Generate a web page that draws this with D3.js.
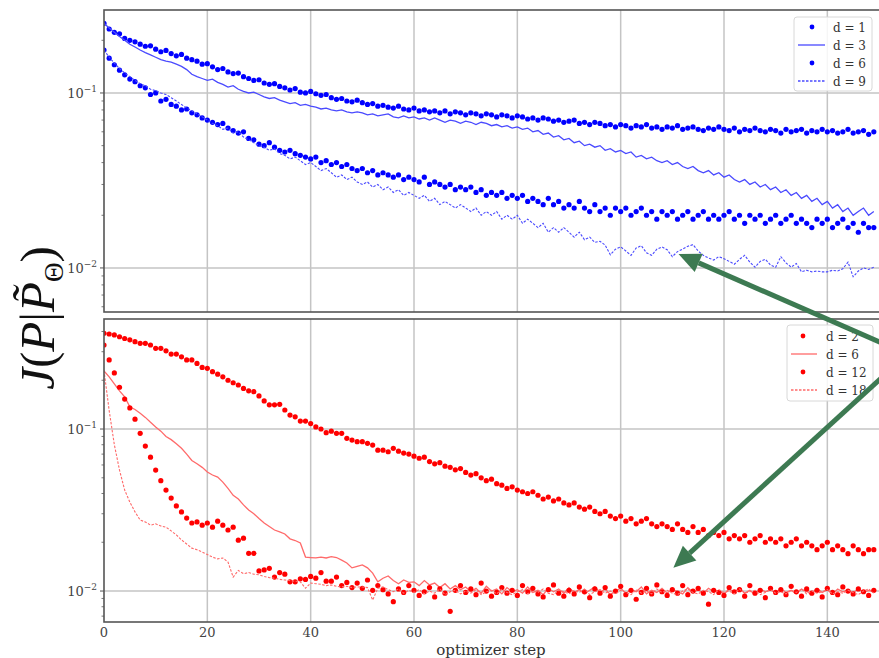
<!DOCTYPE html>
<html>
<head>
<meta charset="utf-8">
<style>
    body { margin: 0; background: #fff; }
    svg { display: block; }
    .tick-label { font-family: 'DejaVu Serif', serif; font-size: 13px; fill: #444; }
    .legend-text { font-family: 'DejaVu Serif', serif; font-size: 12px; fill: #333; }
</style>
</head>
<body>
<svg width="879" height="658"></svg>
<script src="https://d3js.org/d3.v7.min.js"></script>
<script>
// ---- data ----
const xTicks = [0, 20, 40, 60, 80, 100, 120, 140];
const yMajor = [-1, -2];   // exponents of labelled ticks

const topLabels = ["d = 1", "d = 3", "d = 6", "d = 9"];
const botLabels = ["d = 2", "d = 6", "d = 12", "d = 18"];

const topD1 = [0.25,0.232,0.222,0.218,0.205,0.2,0.196,0.19,0.185,0.186,
 0.178,0.172,0.175,0.168,0.163,0.166,0.158,0.155,0.152,0.146,
 0.147,0.141,0.136,0.138,0.132,0.129,0.13,0.124,0.121,0.118,
 0.119,0.114,0.112,0.113,0.109,0.107,0.104,0.106,0.101,0.1,
 0.102,0.099,0.097,0.098,0.094,0.092,0.093,0.09,0.089,0.091,
 0.088,0.086,0.087,0.084,0.085,0.083,0.082,0.084,0.081,0.08,
 0.082,0.079,0.08,0.078,0.079,0.077,0.079,0.076,0.078,0.077,
 0.075,0.077,0.076,0.074,0.076,0.075,0.073,0.075,0.074,0.072,
 0.074,0.073,0.071,0.072,0.07,0.072,0.071,0.069,0.07,0.068,
 0.069,0.07,0.067,0.068,0.066,0.068,0.067,0.065,0.066,0.064,
 0.066,0.065,0.063,0.065,0.064,0.066,0.063,0.064,0.062,0.064,
 0.063,0.065,0.062,0.063,0.064,0.062,0.061,0.063,0.062,0.064,
 0.062,0.061,0.063,0.06,0.062,0.061,0.063,0.061,0.06,0.062,
 0.061,0.059,0.062,0.06,0.061,0.062,0.059,0.061,0.06,0.062,
 0.06,0.061,0.059,0.06,0.062,0.059,0.06,0.061,0.058,0.06];

const topD3 = [0.25,0.235,0.222,0.21,0.2,0.19,0.183,0.176,0.17,0.165,
 0.16,0.155,0.152,0.15,0.146,0.142,0.136,0.128,0.124,0.121,
 0.118,0.12,0.115,0.112,0.108,0.11,0.105,0.102,0.1,0.101,
 0.098,0.095,0.093,0.094,0.091,0.089,0.087,0.088,0.085,0.086,
 0.084,0.083,0.081,0.082,0.08,0.079,0.08,0.078,0.077,0.078,
 0.077,0.075,0.076,0.074,0.075,0.076,0.073,0.072,0.074,0.072,
 0.073,0.071,0.072,0.07,0.072,0.07,0.068,0.07,0.069,0.067,
 0.069,0.068,0.066,0.068,0.067,0.065,0.066,0.064,0.065,0.063,
 0.064,0.062,0.063,0.06,0.061,0.058,0.059,0.056,0.057,0.054,
 0.055,0.052,0.053,0.05,0.051,0.049,0.05,0.047,0.048,0.046,
 0.047,0.045,0.046,0.043,0.044,0.042,0.043,0.041,0.04,0.041,
 0.039,0.04,0.038,0.037,0.038,0.036,0.035,0.036,0.034,0.035,
 0.033,0.034,0.032,0.031,0.032,0.03,0.031,0.029,0.03,0.028,
 0.029,0.027,0.028,0.026,0.027,0.025,0.026,0.024,0.025,0.023,
 0.024,0.022,0.023,0.021,0.022,0.02,0.021,0.022,0.02,0.021];

const topD6 = [0.176,0.158,0.145,0.135,0.127,0.12,0.116,0.11,0.107,0.098,
 0.1,0.09,0.092,0.086,0.084,0.08,0.081,0.077,0.075,0.072,
 0.07,0.068,0.066,0.067,0.063,0.061,0.059,0.06,0.055,0.054,
 0.051,0.05,0.052,0.049,0.047,0.046,0.047,0.045,0.044,0.043,
 0.042,0.043,0.04,0.041,0.039,0.04,0.038,0.039,0.037,0.036,
 0.037,0.035,0.036,0.034,0.035,0.034,0.033,0.034,0.032,0.033,
 0.032,0.031,0.033,0.03,0.031,0.03,0.029,0.03,0.028,0.029,
 0.028,0.029,0.027,0.028,0.026,0.027,0.026,0.027,0.025,0.026,
 0.025,0.026,0.024,0.025,0.024,0.023,0.025,0.023,0.024,0.022,
 0.023,0.022,0.024,0.022,0.021,0.023,0.021,0.022,0.02,0.022,
 0.021,0.022,0.02,0.021,0.022,0.02,0.021,0.019,0.021,0.02,
 0.021,0.019,0.02,0.021,0.019,0.02,0.021,0.019,0.02,0.019,
 0.02,0.021,0.019,0.02,0.018,0.02,0.019,0.02,0.018,0.019,
 0.02,0.018,0.019,0.02,0.018,0.019,0.018,0.017,0.019,0.018,
 0.019,0.017,0.018,0.019,0.017,0.018,0.016,0.018,0.017,0.017];

const topD9 = [0.176,0.16,0.148,0.138,0.13,0.124,0.118,0.113,0.11,0.105,
 0.103,0.1,0.098,0.094,0.09,0.086,0.082,0.079,0.076,0.073,
 0.07,0.067,0.065,0.062,0.063,0.059,0.06,0.056,0.054,0.052,
 0.05,0.049,0.047,0.048,0.045,0.044,0.042,0.043,0.041,0.039,
 0.04,0.038,0.036,0.037,0.035,0.033,0.034,0.032,0.033,0.031,
 0.03,0.031,0.029,0.03,0.028,0.029,0.027,0.028,0.026,0.027,
 0.026,0.025,0.026,0.024,0.025,0.023,0.024,0.023,0.022,0.023,
 0.022,0.021,0.022,0.02,0.021,0.02,0.021,0.019,0.02,0.019,
 0.02,0.018,0.019,0.018,0.017,0.018,0.016,0.017,0.016,0.017,
 0.016,0.015,0.016,0.0145,0.015,0.014,0.0142,0.0135,0.0119,0.0128,
 0.0132,0.0125,0.0118,0.013,0.0134,0.0122,0.0118,0.0128,0.0132,0.0127,
 0.0116,0.0124,0.0128,0.0133,0.0136,0.0125,0.0118,0.0114,0.0111,0.0116,
 0.0113,0.0109,0.0105,0.0112,0.0118,0.0108,0.0101,0.0109,0.0112,0.0104,
 0.0101,0.0116,0.0107,0.0101,0.0106,0.0095,0.0097,0.0095,0.0096,0.0095,
 0.0095,0.0097,0.0096,0.0099,0.0108,0.0089,0.0096,0.01,0.0098,0.0101];

const botD2 = [0.39,0.386,0.381,0.371,0.362,0.355,0.346,0.338,0.338,0.33,
 0.315,0.315,0.304,0.29,0.29,0.279,0.267,0.267,0.254,0.24,
 0.237,0.226,0.218,0.21,0.2,0.193,0.187,0.178,0.172,0.17,
 0.16,0.149,0.141,0.141,0.142,0.131,0.122,0.119,0.112,0.112,
 0.108,0.103,0.1,0.095,0.097,0.094,0.094,0.0876,0.0855,0.0835,
 0.0835,0.0816,0.0796,0.074,0.074,0.0724,0.076,0.073,0.071,0.07,
 0.068,0.066,0.067,0.063,0.061,0.062,0.059,0.058,0.056,0.057,
 0.054,0.052,0.053,0.05,0.048,0.049,0.046,0.045,0.043,0.044,
 0.042,0.041,0.04,0.041,0.039,0.037,0.038,0.036,0.037,0.035,
 0.034,0.035,0.033,0.032,0.033,0.031,0.03,0.031,0.029,0.028,
 0.029,0.027,0.028,0.026,0.027,0.028,0.026,0.025,0.026,0.025,
 0.024,0.026,0.024,0.023,0.025,0.023,0.024,0.022,0.023,0.022,
 0.023,0.021,0.022,0.021,0.022,0.02,0.021,0.022,0.02,0.021,
 0.02,0.021,0.019,0.02,0.021,0.019,0.02,0.019,0.018,0.019,
 0.02,0.018,0.019,0.018,0.017,0.019,0.018,0.017,0.018,0.018];

const botD6 = [0.228,0.21,0.19,0.172,0.158,0.137,0.132,0.125,0.118,0.11,
 0.103,0.097,0.09,0.086,0.081,0.076,0.07,0.064,0.061,0.058,
 0.0543,0.052,0.0505,0.047,0.043,0.039,0.037,0.034,0.0316,0.03,
 0.028,0.0263,0.025,0.0238,0.0232,0.0225,0.021,0.0205,0.0198,0.0162,
 0.0161,0.016,0.0162,0.016,0.0163,0.0161,0.0155,0.0149,0.0139,0.0142,
 0.0145,0.0139,0.0129,0.0114,0.012,0.0124,0.0116,0.0111,0.0117,0.0113,
 0.0114,0.0108,0.0116,0.0109,0.0112,0.0105,0.0111,0.0103,0.0108,0.0102,
 0.0106,0.0099,0.0104,0.0097,0.0107,0.01,0.0103,0.0096,0.0105,0.0099,
 0.0102,0.0097,0.0106,0.0098,0.0101,0.0095,0.0104,0.0099,0.0103,0.0097,
 0.0105,0.0098,0.0102,0.0096,0.0101,0.0106,0.0098,0.0103,0.0095,0.01,
 0.0104,0.0097,0.0102,0.0099,0.0106,0.0096,0.0101,0.0098,0.0104,0.0097,
 0.0103,0.0099,0.0096,0.0105,0.0098,0.0102,0.0097,0.0104,0.0099,0.0101,
 0.0096,0.0103,0.0098,0.0105,0.0097,0.0101,0.0095,0.0103,0.0099,0.0102,
 0.0097,0.0104,0.0098,0.0101,0.0096,0.0103,0.0099,0.0097,0.0104,0.0098,
 0.0102,0.0096,0.0103,0.0099,0.0101,0.0097,0.0104,0.0098,0.0101,0.0099];

const botD12 = [0.33,0.267,0.222,0.181,0.153,0.135,0.115,0.094,0.0785,0.067,
 0.0558,0.048,0.042,0.0375,0.0335,0.0308,0.0282,0.0263,0.0267,0.0255,
 0.0263,0.0248,0.027,0.0255,0.0238,0.0248,0.0206,0.0212,0.0171,0.0171,
 0.0133,0.0135,0.0138,0.0122,0.013,0.0127,0.0114,0.0114,0.0119,0.0118,
 0.0123,0.012,0.013,0.0115,0.0115,0.0122,0.0108,0.0113,0.0105,0.0112,
 0.0104,0.0117,0.0101,0.0108,0.0102,0.0096,0.0086,0.0103,0.0098,0.0108,
 0.0101,0.0094,0.0099,0.0105,0.0092,0.0103,0.0097,0.0075,0.0101,0.0108,
 0.0098,0.0103,0.0095,0.0112,0.01,0.0093,0.0098,0.0105,0.0097,0.0101,
 0.0094,0.0108,0.0099,0.0104,0.0096,0.0092,0.0102,0.0109,0.0097,0.0093,
 0.0101,0.0096,0.0106,0.0099,0.0091,0.0103,0.0097,0.0105,0.0093,0.01,
 0.0107,0.0095,0.0101,0.0089,0.0098,0.0104,0.0096,0.0109,0.0099,0.0094,
 0.0102,0.0097,0.0108,0.0095,0.01,0.0104,0.0097,0.0083,0.0101,0.0098,
 0.0094,0.0105,0.0099,0.0102,0.0093,0.0108,0.0097,0.0101,0.0091,0.0104,
 0.0098,0.0102,0.0095,0.0107,0.0099,0.0093,0.0103,0.0097,0.0101,0.0092,
 0.0104,0.0098,0.0095,0.0106,0.01,0.0096,0.0103,0.0099,0.0094,0.0101];

const botD18 = [0.23,0.13,0.08,0.0558,0.042,0.0354,0.0308,0.0274,0.0267,0.0255,
 0.026,0.0252,0.0248,0.0235,0.0222,0.0207,0.0195,0.0184,0.018,0.0174,
 0.0168,0.0162,0.0158,0.016,0.0151,0.0122,0.0134,0.0128,0.013,0.0127,
 0.0126,0.0123,0.0121,0.012,0.0118,0.0117,0.0116,0.0115,0.0114,0.0104,
 0.0112,0.0111,0.011,0.0108,0.0109,0.0107,0.0106,0.0107,0.0105,0.0106,
 0.0106,0.0105,0.0088,0.0104,0.0106,0.0102,0.0099,0.0103,0.0097,0.0101,
 0.0098,0.0102,0.0096,0.01,0.0097,0.0103,0.0095,0.0099,0.0101,0.0096,
 0.01,0.0097,0.0102,0.0095,0.0099,0.0101,0.0096,0.0103,0.0098,0.0095,
 0.0099,0.0102,0.0096,0.01,0.0098,0.0103,0.0097,0.0095,0.0101,0.0099,
 0.0096,0.0101,0.0098,0.0103,0.0095,0.0099,0.0102,0.0097,0.01,0.0096,
 0.0101,0.0098,0.0095,0.0102,0.0097,0.01,0.0096,0.0103,0.0098,0.0101,
 0.0097,0.0095,0.01,0.0103,0.0098,0.0096,0.0101,0.0099,0.0095,0.0102,
 0.0098,0.01,0.0096,0.0103,0.0097,0.0099,0.0101,0.0095,0.0098,0.0102,
 0.0097,0.0099,0.0096,0.0101,0.0098,0.0103,0.0096,0.01,0.0097,0.0099,
 0.0102,0.0096,0.0099,0.0097,0.0101,0.0098,0.0095,0.01,0.0103,0.0097];

// arrow annotations: tip in data coords of a panel, common tail off the right edge
const arrowTips = [{panel: 0, step: 111.2, value: 0.012}, {panel: 1, step: 110.2, value: 0.0139}];
const arrowTail = {step: 155.5, value: 0.29};   // bottom-panel coords

// ---- layout ----
let svg = d3.select("svg");
let x = d3.scaleLinear().domain([0, 150]).range([104, 879]);

let panels = [
    {top: 10, bottom: 312, domain: [0.0056, 0.298], color: "blue", labels: topLabels,
     series: [{v: topD1, kind: "dot"}, {v: topD3, kind: "solid"}, {v: topD6, kind: "dot"}, {v: topD9, kind: "dash"}],
     legend: {x0: 794, y0: 17, w: 78, h: 74, rows: [27, 45, 63, 81], mx: 812, lx0: 798, lx1: 825, tx: 833}},
    {top: 319, bottom: 622, domain: [0.00644, 0.4776], color: "red", labels: botLabels,
     series: [{v: botD2, kind: "dot"}, {v: botD6, kind: "solid"}, {v: botD12, kind: "dot"}, {v: botD18, kind: "dash"}],
     legend: {x0: 787, y0: 325, w: 86, h: 76, rows: [336, 354, 372, 390], mx: 803, lx0: 791, lx1: 817, tx: 826}}
];

let lineColor = {blue: "#4a4aff", red: "#ff6a6a"};

panels.forEach((p, pi) => {
    p.y = d3.scaleLog().domain(p.domain).range([p.bottom, p.top]);
    let g = svg.append("g");

    let clipId = "clip" + pi;
    svg.append("clipPath").attr("id", clipId)
        .append("rect").attr("x", 104).attr("y", p.top).attr("width", 775).attr("height", p.bottom - p.top);

    // grid
    g.selectAll(".vgrid").data(xTicks.slice(1)).join("line")
        .attr("x1", d => x(d)).attr("x2", d => x(d))
        .attr("y1", p.top).attr("y2", p.bottom)
        .attr("stroke", "#c4c4c4").attr("stroke-width", 1.5);
    g.selectAll(".hgrid").data(yMajor).join("line")
        .attr("x1", 104).attr("x2", 879)
        .attr("y1", d => p.y(Math.pow(10, d))).attr("y2", d => p.y(Math.pow(10, d)))
        .attr("stroke", "#c4c4c4").attr("stroke-width", 1.5);

    // minor + major ticks on the log axis
    let minor = [];
    for (let e = -3; e <= 0; e++) {
        for (let k = 2; k <= 9; k++) {
            let v = k * Math.pow(10, e);
            if (v > p.domain[0] && v < p.domain[1]) minor.push(v);
        }
    }
    g.selectAll(".minor").data(minor).join("line")
        .attr("x1", 101.5).attr("x2", 104)
        .attr("y1", d => p.y(d)).attr("y2", d => p.y(d))
        .attr("stroke", "#555").attr("stroke-width", 0.8);
    g.selectAll(".major").data(yMajor).join("line")
        .attr("x1", 100).attr("x2", 104)
        .attr("y1", d => p.y(Math.pow(10, d))).attr("y2", d => p.y(Math.pow(10, d)))
        .attr("stroke", "#555").attr("stroke-width", 1);

    let lab = g.selectAll(".ylab").data(yMajor).join("text")
        .attr("class", "tick-label")
        .attr("x", 97).attr("y", d => p.y(Math.pow(10, d)) + 5)
        .attr("text-anchor", "end");
    lab.append("tspan").text("10");
    lab.append("tspan").attr("dy", -6).attr("font-size", 9).text(d => "\u2212" + Math.abs(d));

    // series
    let plotG = svg.append("g").attr("clip-path", `url(#${clipId})`);
    p.series.forEach(s => {
        let pts = s.v.map((v, i) => [i, v]);
        if (s.kind === "dot") {
            plotG.append("g").selectAll("circle").data(pts).join("circle")
                .attr("cx", d => x(d[0])).attr("cy", d => p.y(d[1]))
                .attr("r", 2.6).attr("fill", p.color);
        } else {
            let line = d3.line().x(d => x(d[0])).y(d => p.y(d[1]));
            plotG.append("path").attr("d", line(pts))
                .attr("fill", "none")
                .attr("stroke", lineColor[p.color])
                .attr("stroke-width", s.kind === "solid" ? 1.3 : 1.1)
                .attr("stroke-dasharray", s.kind === "dash" ? "2.5,1.5" : null);
        }
    });

    // frame
    svg.append("rect").attr("x", 104).attr("y", p.top)
        .attr("width", 778).attr("height", p.bottom - p.top)
        .attr("fill", "none").attr("stroke", "#555").attr("stroke-width", 1.6);

    // legend
    let L = p.legend;
    let lg = svg.append("g");
    lg.append("rect").attr("x", L.x0).attr("y", L.y0).attr("width", L.w).attr("height", L.h)
        .attr("rx", 3).attr("fill", "white").attr("fill-opacity", 0.85)
        .attr("stroke", "#d8d8d8").attr("stroke-width", 1);
    p.series.forEach((s, i) => {
        let yy = L.rows[i];
        if (s.kind === "dot") {
            lg.append("circle").attr("cx", L.mx).attr("cy", yy).attr("r", 2.4).attr("fill", p.color);
        } else {
            lg.append("line").attr("x1", L.lx0).attr("x2", L.lx1).attr("y1", yy).attr("y2", yy)
                .attr("stroke", lineColor[p.color]).attr("stroke-width", 1.3)
                .attr("stroke-dasharray", s.kind === "dash" ? "2.5,1.5" : null);
        }
        lg.append("text").attr("class", "legend-text")
            .attr("x", L.tx).attr("y", yy + 4.5).text(p.labels[i]);
    });
});

// x tick labels (bottom panel only)
svg.selectAll(".xlab").data(xTicks).join("text")
    .attr("class", "tick-label")
    .attr("x", d => x(d)).attr("y", 637)
    .attr("text-anchor", "middle")
    .text(d => d);

svg.append("text")
    .attr("x", 491).attr("y", 655)
    .attr("text-anchor", "middle")
    .style("font-family", "'DejaVu Serif', serif").style("font-size", "15px").style("fill", "#333")
    .text("optimizer step");

// y axis label  J(P|P̃_Θ)
let yl = svg.append("text")
    .attr("transform", "translate(54,318) rotate(-90)")
    .attr("text-anchor", "middle")
    .style("font-family", "'Liberation Serif', serif").style("font-size", "49px").style("fill", "#111");
yl.append("tspan").style("font-style", "italic").text("J");
yl.append("tspan").text("(");
yl.append("tspan").style("font-style", "italic").text("P");
yl.append("tspan").text("|");
yl.append("tspan").style("font-style", "italic").text("P\u0303");
yl.append("tspan").attr("dy", 9).style("font-size", "27px").text("\u0398");
yl.append("tspan").attr("dy", -9).text(")");

// green arrows
let tailX = x(arrowTail.step), tailY = panels[1].y(arrowTail.value);
arrowTips.forEach(a => {
    let tx = x(a.step), ty = panels[a.panel].y(a.value);
    let ang = Math.atan2(ty - tailY, tx - tailX);
    let hl = 22, hw = 10;
    let bx = tx - hl * Math.cos(ang), by = ty - hl * Math.sin(ang);
    svg.append("line").attr("x1", tailX).attr("y1", tailY).attr("x2", bx).attr("y2", by)
        .attr("stroke", "#3d7a52").attr("stroke-width", 5);
    let px = -Math.sin(ang), py = Math.cos(ang);
    svg.append("polygon")
        .attr("points", [[tx, ty], [bx + hw * px, by + hw * py], [bx - hw * px, by - hw * py]].map(d => d.join(",")).join(" "))
        .attr("fill", "#3d7a52");
});
</script>
</body>
</html>
